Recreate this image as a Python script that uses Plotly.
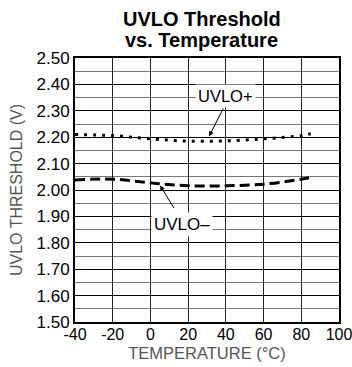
import plotly.graph_objects as go

temps = [-40, -20, 0, 20, 40, 60, 80, 85]
uvlo_plus = [2.210, 2.206, 2.194, 2.185, 2.186, 2.194, 2.206, 2.213]
uvlo_minus = [2.038, 2.041, 2.027, 2.016, 2.016, 2.022, 2.041, 2.048]

x_ticks = [-40, -20, 0, 20, 40, 60, 80, 100]
y_ticks = [1.5, 1.6, 1.7, 1.8, 1.9, 2.0, 2.1, 2.2, 2.3, 2.4, 2.5]

FONT = "Liberation Sans, Arial, sans-serif"

fig = go.Figure()
fig.add_trace(go.Scatter(x=temps, y=uvlo_plus, mode="lines", line=dict(color="black", width=3, dash="3px,6px", shape="spline"), showlegend=False))
fig.add_trace(go.Scatter(x=temps, y=uvlo_minus, mode="lines", line=dict(color="black", width=3, dash="10px,5px", shape="spline"), showlegend=False))

fig.update_layout(
    width=352, height=367,
    margin=dict(l=75, r=13, t=58, b=45, autoexpand=False),
    paper_bgcolor="white", plot_bgcolor="white",
    font=dict(family=FONT, color="black", size=16),
    showlegend=False,
)
fig.update_xaxes(
    range=[-40, 100], tickvals=x_ticks, ticktext=[str(v) for v in x_ticks],
    showgrid=True, gridcolor="#222222", gridwidth=1,
    showline=True, linecolor="black", linewidth=2, mirror=True,
    ticks="", tickfont=dict(size=16, color="black"), automargin=False,
    ticklabeloverflow="allow", ticklabelstandoff=-3,
    title=dict(text="TEMPERATURE (°C)", font=dict(size=16.5, color="#555555"), standoff=5),
    zeroline=False,
)
fig.update_yaxes(
    range=[1.5, 2.5], tickvals=y_ticks, ticktext=["%.2f" % v for v in y_ticks],
    showgrid=True, gridcolor="black", gridwidth=1.3,
    minor=dict(dtick=0.05, showgrid=True, gridcolor="#777777", gridwidth=1),
    showline=True, linecolor="black", linewidth=2, mirror=True,
    ticks="", tickfont=dict(size=17, color="black"), automargin=False,
    title=dict(text="UVLO THRESHOLD (V)", font=dict(size=16, color="#555555"), standoff=10),
    zeroline=False,
)

# Title as two lines
fig.add_annotation(text="<b>UVLO Threshold</b>", xref="paper", yref="paper", x=0.481, y=1.0,
                   yshift=39, showarrow=False, font=dict(size=20, color="black"), xanchor="center", yanchor="middle")
fig.add_annotation(text="<b>vs. Temperature</b>", xref="paper", yref="paper", x=0.481, y=1.0,
                   yshift=18, showarrow=False, font=dict(size=20, color="black"), xanchor="center", yanchor="middle")

# Labels
fig.add_annotation(text="UVLO+", x=40, y=2.356, showarrow=False, bgcolor="white",
                   font=dict(size=16.5, color="black"), borderpad=2)
fig.add_annotation(x=31.1, y=2.203, ax=39.0, ay=2.314, axref="x", ayref="y", text="",
                   showarrow=True, arrowhead=2, arrowsize=1, arrowwidth=1, arrowcolor="black")
fig.add_annotation(text="UVLO–", x=16.7, y=1.869, showarrow=False, bgcolor="white",
                   font=dict(size=17, color="black"), borderpad=2)
fig.add_annotation(x=5.1, y=2.017, ax=13.0, ay=1.926, axref="x", ayref="y", text="",
                   showarrow=True, arrowhead=2, arrowsize=1, arrowwidth=1, arrowcolor="black")

fig.write_html(
    "out.html",
    config={"responsive": False, "displayModeBar": False},
    post_script="document.documentElement.style.overflow='hidden';document.body.style.margin='0';document.body.style.overflow='hidden';Plotly.relayout('{plot_id}', {width:352, height:367});",
)
